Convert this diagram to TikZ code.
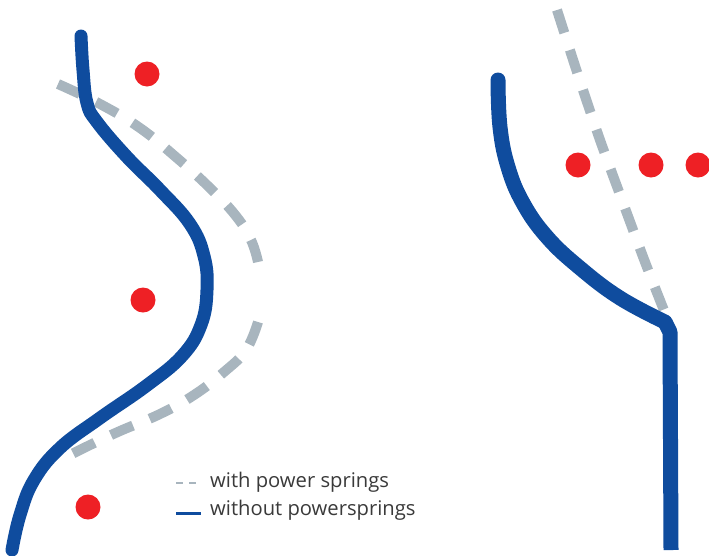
\documentclass[tikz,border=0pt]{standalone}
\usepackage{fontspec}
\setmainfont{Open Sans}
\usepackage{tikz}
\definecolor{pathblue}{HTML}{0F4C9E}
\definecolor{springgray}{HTML}{A8B5BE}
\definecolor{dotred}{HTML}{EE2025}
\definecolor{labelgray}{HTML}{3A3A3A}

\begin{document}
\begin{tikzpicture}[x=1pt, y=-1pt,
    bluepath/.style={pathblue, line width=13pt, line cap=round, line join=round},
    graypath/.style={springgray, line width=10pt, dash pattern=on 24pt off 18pt},
    obstacle/.style={dotred}]
    \useasboundingbox (0,0) rectangle (709,555);
    % Left: spring paths (dashed, gray)
    \draw[graypath] plot[smooth, tension=0.7] coordinates
        {(58,84) (100,104) (140,128) (177,158) (210,188) (236,216) (251,240) (258,262)};
    \draw[graypath] plot[smooth, tension=0.7] coordinates
        {(258,322) (246,350) (224,372) (194,395) (160,414) (120,431) (90,445) (64,458)};
    % Left: path without springs
    \draw[bluepath] plot[smooth, tension=0.7] coordinates
        {(81,36) (83,70) (87,103) (97,122) (127,157) (160,190) (190,224) (204,256) (207,290)
         (201,325) (182,356) (146,386) (100,418) (60,448) (34,480) (20,515) (12,550)};
    % Right: spring path (dashed, gray)
    \draw[graypath] plot[smooth, tension=0.5] coordinates
        {(557,10) (578,75) (600,140) (622,200) (645,262) (667,318)};
    % Right: path without springs
    \draw[bluepath, line width=15pt] plot[smooth, tension=0.7] coordinates
        {(498,80) (500,127) (508,167) (523,203) (547,237) (580,268) (620,298) (665,322)};
    \draw[bluepath, line width=15pt, line cap=butt] (665,322) -- (670,332) -- (671,550);
    % Obstacles
    \foreach \px/\py in {147/74, 143/300, 88/507, 578/165, 651/165, 698/165} {
        \fill[obstacle] (\px,\py) circle (12.5);
    }
    % Legend
    \node[anchor=west, text=labelgray, font=\fontsize{20.2}{24}\selectfont, inner sep=0pt]
        (withlbl) at (210,482) {with power springs};
    \node[anchor=west, text=labelgray, font=\fontsize{20.2}{24}\selectfont, inner sep=0pt]
        (withoutlbl) at (210,510) {without powersprings};
    \coordinate (withkey) at (176,483);
    \coordinate (withkeyend) at (201,483);
    \coordinate (withoutkey) at (176,513);
    \coordinate (withoutkeyend) at (201,513);
    \draw[springgray, line width=2.5pt, dash pattern=on 7pt off 6pt] (withkey) -- (withkeyend);
    \draw[pathblue, line width=3pt] (withoutkey) -- (withoutkeyend);
\end{tikzpicture}
\end{document}
